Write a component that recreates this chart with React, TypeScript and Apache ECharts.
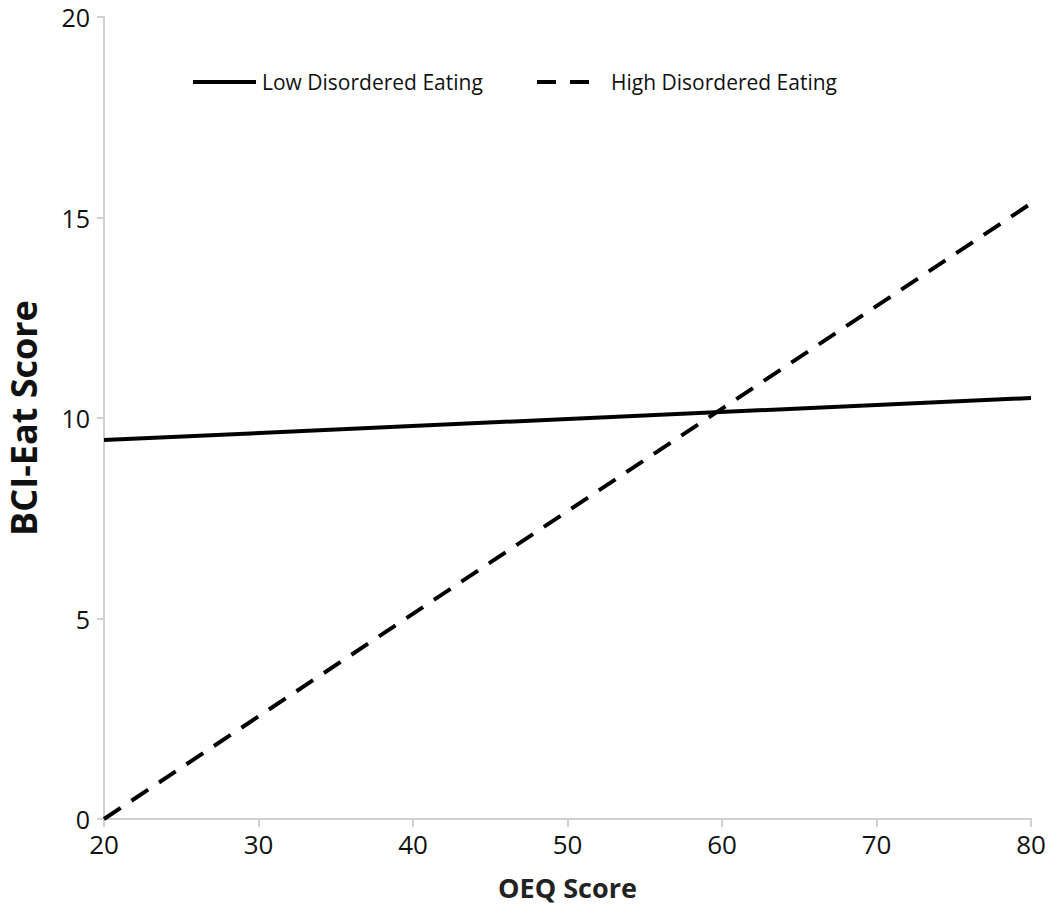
import React, { useEffect, useRef } from "react";
import * as echarts from "echarts";

const xValues = [20, 80];
const lowValues = [9.45, 10.5];
const highValues = [0, 15.35];
const seriesNames = ["Low Disordered Eating", "High Disordered Eating"];

export default function App() {
  const ref = useRef<HTMLDivElement>(null);
  useEffect(() => {
    const chart = echarts.init(ref.current!, null, { renderer: "svg" });
    const axisLine = { show: true, lineStyle: { color: "#d0d0d0", width: 2 } };
    const legendFont = { fontFamily: "Open Sans", fontSize: 21, fill: "#111" };
    chart.setOption({
      animation: false,
      backgroundColor: "#ffffff",
      grid: { left: 104, right: 19, top: 17, bottom: 87, outerBoundsMode: "none", containLabel: false },
      graphic: [
        { type: "line", shape: { x1: 193, y1: 82, x2: 256, y2: 82 }, style: { stroke: "#000", lineWidth: 4 } },
        { type: "text", x: 262, y: 82, style: { ...legendFont, text: seriesNames[0], verticalAlign: "middle" } },
        { type: "line", shape: { x1: 537, y1: 82, x2: 589, y2: 82 }, style: { stroke: "#000", lineWidth: 4, lineDash: [19, 14] } },
        { type: "text", x: 611, y: 82, style: { ...legendFont, text: seriesNames[1], verticalAlign: "middle" } },
      ],
      xAxis: {
        type: "value",
        min: 20,
        max: 80,
        interval: 10,
        name: "OEQ Score",
        nameLocation: "middle",
        nameGap: 55,
        nameTextStyle: { fontFamily: "Open Sans", fontWeight: "bold", fontSize: 27, color: "#222" },
        axisLine,
        axisTick: { show: true, length: 8, lineStyle: { color: "#d0d0d0", width: 2 } },
        axisLabel: { fontFamily: "Open Sans", fontSize: 26, color: "#111", margin: 12 },
        splitLine: { show: false },
      },
      yAxis: {
        type: "value",
        min: 0,
        max: 20,
        interval: 5,
        name: "BCI-Eat Score",
        nameLocation: "middle",
        nameGap: 62,
        nameTextStyle: { fontFamily: "Open Sans", fontWeight: "bold", fontSize: 36, lineHeight: 38, color: "#111" },
        axisLine,
        axisTick: { show: true, length: 7, lineStyle: { color: "#d0d0d0", width: 2 } },
        axisLabel: { fontFamily: "Open Sans", fontSize: 25, lineHeight: 24, color: "#111", margin: 14 },
        splitLine: { show: false },
      },
      series: [
        {
          name: seriesNames[0],
          type: "line",
          data: xValues.map((x, i) => [x, lowValues[i]]),
          showSymbol: false,
          symbol: "none",
          lineStyle: { color: "#000", width: 4, type: "solid" },
          itemStyle: { color: "#000" },
        },
        {
          name: seriesNames[1],
          type: "line",
          data: xValues.map((x, i) => [x, highValues[i]]),
          showSymbol: false,
          symbol: "none",
          lineStyle: { color: "#000", width: 4, type: [20, 13] },
          itemStyle: { color: "#000" },
        },
      ],
    });
    return () => chart.dispose();
  }, []);
  return <div ref={ref} style={{ width: 1050, height: 906, position: "absolute", left: 0, top: 0 }} />;
}
